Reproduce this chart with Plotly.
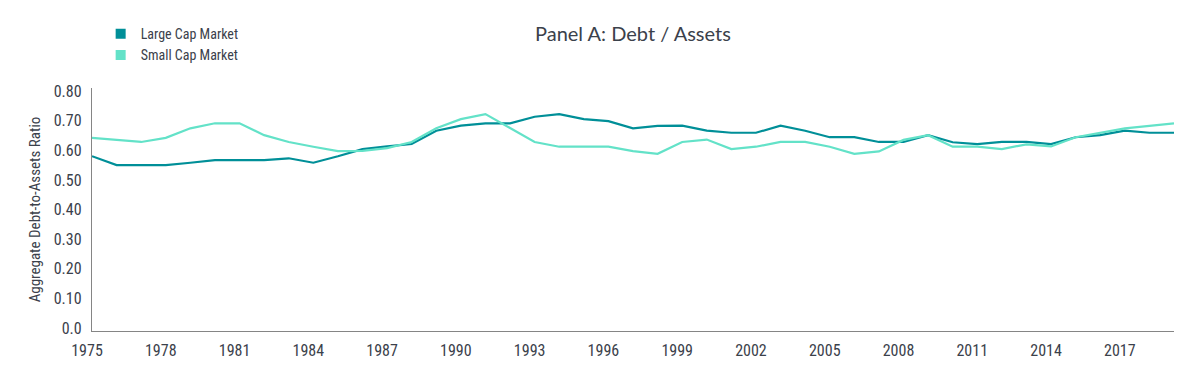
import plotly.graph_objects as go

years = list(range(1975, 2020))
large_cap = [0.580, 0.550, 0.550, 0.550, 0.558, 0.567, 0.567, 0.567, 0.573, 0.558,
             0.580, 0.604, 0.613, 0.621, 0.666, 0.683, 0.691, 0.691, 0.713, 0.722,
             0.705, 0.698, 0.674, 0.682, 0.683, 0.666, 0.659, 0.659, 0.683, 0.666,
             0.644, 0.644, 0.628, 0.628, 0.651, 0.627, 0.621, 0.628, 0.628, 0.621,
             0.644, 0.651, 0.666, 0.659, 0.659]
small_cap = [0.642, 0.635, 0.628, 0.642, 0.674, 0.691, 0.691, 0.651, 0.628, 0.612,
             0.597, 0.598, 0.607, 0.628, 0.674, 0.705, 0.722, 0.675, 0.628, 0.612,
             0.612, 0.612, 0.597, 0.588, 0.628, 0.636, 0.604, 0.612, 0.628, 0.628,
             0.612, 0.588, 0.596, 0.635, 0.651, 0.612, 0.612, 0.604, 0.620, 0.613,
             0.644, 0.659, 0.674, 0.682, 0.691]
series_names = ["Large Cap Market", "Small Cap Market"]
series_colors = ["#008F98", "#63E2C8"]
x_tick_years = [1975, 1978, 1981, 1984, 1987, 1990, 1993, 1996, 1999, 2002, 2005, 2008, 2011, 2014, 2017]
y_tick_vals = [0, 0.1, 0.2, 0.3, 0.4, 0.5, 0.6, 0.7, 0.8]
y_tick_text = ["0.0", "0.10", "0.20", "0.30", "0.40", "0.50", "0.60", "0.70", "0.80"]

NARROW = "Liberation Sans Narrow, Arial Narrow, Roboto Condensed, DejaVu Sans Condensed, sans-serif"
TEXT = "#3B414B"

fig = go.Figure()
for name, vals, col in zip(series_names, [large_cap, small_cap], series_colors):
    fig.add_trace(go.Scatter(x=years, y=vals, mode="lines", name=name,
                             line=dict(color=col, width=2.2), showlegend=False,
                             hoverinfo="x+y"))
for name, col in zip(series_names, series_colors):
    fig.add_trace(go.Scatter(x=[None], y=[None], mode="markers", name=name,
                             marker=dict(symbol="square", size=10, color=col),
                             showlegend=True))

# page has an 8px body margin, so the figure is sized/positioned to compensate
fig.update_layout(
    width=1192, height=370,
    margin=dict(l=84, r=26, t=80, b=47, autoexpand=False),
    paper_bgcolor="white", plot_bgcolor="white",
    font=dict(family=NARROW, color=TEXT, size=16),
    showlegend=True,
    legend=dict(x=0.008, xanchor="left", y=1.2874, yanchor="top",
                font=dict(family=NARROW, size=14, color=TEXT),
                bgcolor="rgba(0,0,0,0)", tracegroupgap=0, itemwidth=30),
    annotations=[dict(text="Panel A: Debt / Assets", xref="paper", yref="paper",
                      x=0.5, y=(331 - 33) / 243, xanchor="center", yanchor="middle",
                      showarrow=False,
                      font=dict(family="Lato, Open Sans, sans-serif", size=20, color=TEXT))],
)
fig.update_xaxes(range=[1975, 2019], tickvals=x_tick_years, ticktext=[str(y) for y in x_tick_years],
                 showgrid=False, zeroline=False, showline=True, linecolor="#858585", linewidth=1.3,
                 ticks="", ticklabelstandoff=5, ticklabelshift=-5,
                 tickfont=dict(family=NARROW, size=16, color=TEXT))
fig.update_yaxes(range=[-0.0095, 0.81], tickvals=y_tick_vals, ticktext=y_tick_text,
                 showgrid=False, zeroline=False, showline=True, linecolor="#858585", linewidth=1.3,
                 ticks="", ticklabelstandoff=6,
                 tickfont=dict(family=NARROW, size=16, color=TEXT),
                 title=dict(text="Aggregate Debt-to-Assets Ratio", standoff=9,
                            font=dict(family=NARROW, size=15, color=TEXT)))

fig.write_html("out.html")
